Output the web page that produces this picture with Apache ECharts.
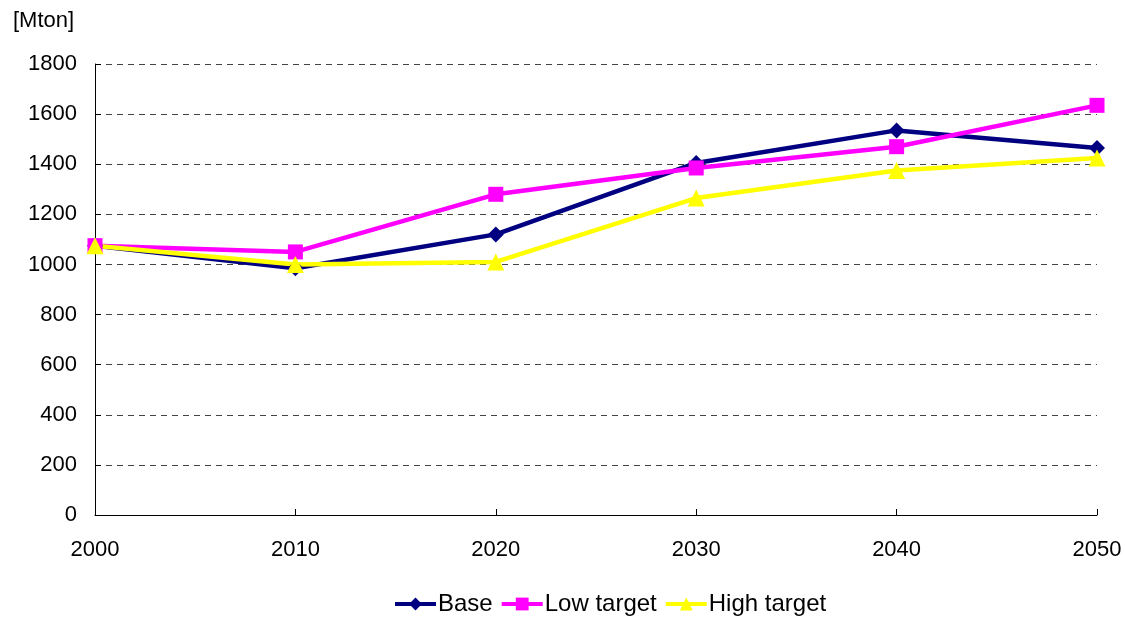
<!DOCTYPE html>
<html>
<head>
<meta charset="utf-8">
<script src="https://cdn.jsdelivr.net/npm/echarts@6/dist/echarts.min.js"></script>
<style>
    html, body { margin: 0; padding: 0; background: #fff; }
    #chart { width: 1125px; height: 618px; }
</style>
</head>
<body>
<div id="chart"></div>
<script>
const years = ['2000', '2010', '2020', '2030', '2040', '2050']
const baseData = [1075, 985, 1120, 1405, 1535, 1465]
const lowData = [1075, 1050, 1280, 1385, 1470, 1635]
const highData = [1075, 1000, 1010, 1265, 1375, 1425]

const font = 'Liberation Sans, Arial, sans-serif'

const chart = echarts.init(document.getElementById('chart'))

function makeSeries(name, data, color, symbol, size) {
    return {
        name: name,
        type: 'line',
        data: data,
        symbol: symbol,
        symbolSize: size,
        itemStyle: { color: color },
        lineStyle: { color: color, width: 4.5 },
        animation: false
    }
}

const option = {
    textStyle: { fontFamily: font },
    title: {
        text: '[Mton]',
        left: 8,
        top: 5,
        textStyle: { fontSize: 22, fontWeight: 'normal', color: '#000', fontFamily: font }
    },
    legend: {
        top: 587,
        left: 388,
        itemWidth: 41,
        itemHeight: 16,
        itemGap: 7,
        lineStyle: { width: 4 },
        textStyle: { fontSize: 24, color: '#000', fontFamily: font, padding: [0, 0, 0, -3] },
        data: ['Base', 'Low target', 'High target']
    },
    grid: { left: 95, right: 28, top: 64, bottom: 103 },
    xAxis: {
        type: 'category',
        boundaryGap: false,
        data: years,
        axisLine: { lineStyle: { color: '#000', width: 1 } },
        axisTick: { inside: true, length: 6, lineStyle: { color: '#000' } },
        axisLabel: { fontSize: 22, color: '#000', margin: 24, fontFamily: font }
    },
    yAxis: {
        type: 'value',
        min: 0,
        max: 1800,
        interval: 200,
        axisLine: { show: true, lineStyle: { color: '#000', width: 1 } },
        axisTick: { show: true, inside: true, length: 6, lineStyle: { color: '#000' } },
        axisLabel: { fontSize: 22, color: '#000', margin: 18, fontFamily: font, formatter: v => String(v) },
        splitLine: { lineStyle: { color: '#444', type: [6, 5], width: 1 } }
    },
    series: [
        makeSeries('Base', baseData, '#000080', 'diamond', 16),
        makeSeries('Low target', lowData, '#ff00ff', 'rect', 15),
        makeSeries('High target', highData, '#ffff00', 'triangle', 17)
    ]
}

chart.setOption(option)
</script>
</body>
</html>
